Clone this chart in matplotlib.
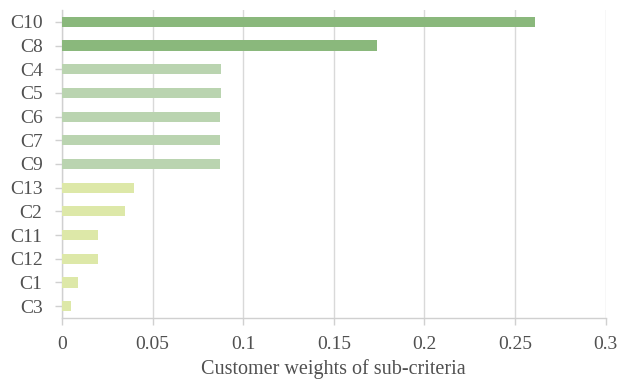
import matplotlib.pyplot as plt

# data (top to bottom as shown)
criteria = ["C10", "C8", "C4", "C5", "C6", "C7", "C9", "C13", "C2", "C11", "C12", "C1", "C3"]
weights = [0.261, 0.174, 0.088, 0.088, 0.087, 0.087, 0.087, 0.040, 0.035, 0.020, 0.020, 0.009, 0.005]
groups = [0, 0, 1, 1, 1, 1, 1, 2, 2, 2, 2, 2, 2]
group_colors = ["#8ab87c", "#bad4b0", "#dde8a8"]
xticks = [0, 0.05, 0.1, 0.15, 0.2, 0.25, 0.3]
xtick_labels = ["0", "0.05", "0.1", "0.15", "0.2", "0.25", "0.3"]

plt.rcParams["font.family"] = ["Liberation Serif", "DejaVu Serif"]

fig = plt.figure(figsize=(6.17, 3.79), dpi=100)
ax = fig.add_axes([62 / 617, 61 / 379, 543.5 / 617, 308 / 379])

n = len(criteria)
ypos = [n - 1 - i for i in range(n)]
colors = [group_colors[g] for g in groups]
ax.barh(ypos, weights, height=0.43, color=colors, zorder=3)

ax.set_xlim(0, 0.3)
ax.set_ylim(-0.5, n - 0.5)
ax.set_yticks(ypos)
ax.set_yticklabels(criteria)
ax.set_xticks(xticks)
ax.set_xticklabels(xtick_labels)

ax.grid(axis="x", color="#d9d9d9", linewidth=1, zorder=0)
for side in ["top", "right"]:
    ax.spines[side].set_visible(False)
for side in ["left", "bottom"]:
    ax.spines[side].set_color("#d0d0d0")
    ax.spines[side].set_linewidth(1)

ax.tick_params(axis="both", colors="#d0d0d0", labelcolor="#505050", labelsize=14, length=5, width=1)
ax.tick_params(axis="y", pad=9)
ax.tick_params(axis="x", pad=8)

ax.set_xlabel("Customer weights of sub-criteria", fontsize=14.5, color="#505050", labelpad=4)

fig.savefig("out.png", dpi=100)
